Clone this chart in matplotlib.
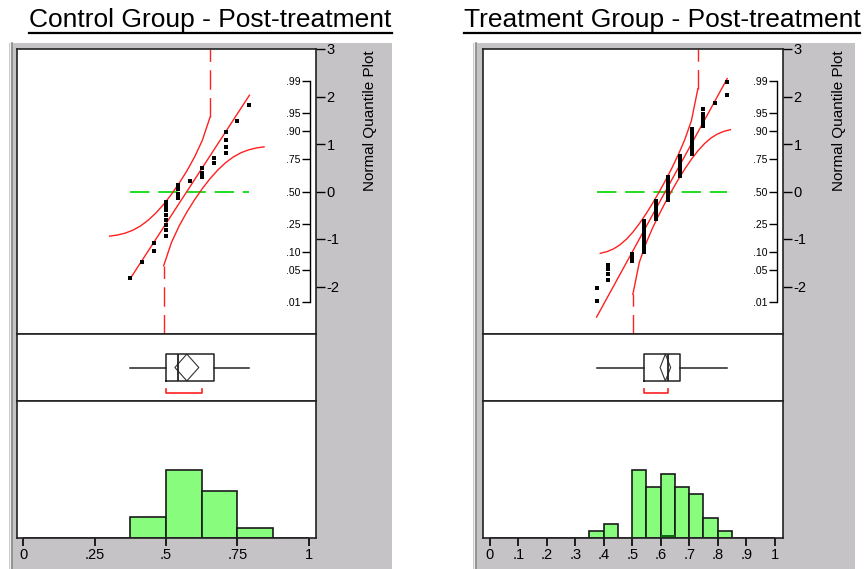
import numpy as np
import matplotlib.pyplot as plt
from matplotlib.patches import Rectangle, Polygon
from matplotlib.lines import Line2D
from statistics import NormalDist

plt.rcParams['font.family'] = ['Liberation Sans', 'DejaVu Sans']

nd = NormalDist()

# control group, post-treatment: distinct values and how often each occurs
control_values = [0.375, 0.4167, 0.4583, 0.5, 0.5417, 0.5833, 0.625, 0.6667, 0.7083, 0.75, 0.7917]
control_counts = [1, 1, 2, 8, 4, 1, 3, 2, 4, 1, 1]

# treatment group, post-treatment
treatment_values = [0.375, 0.4167, 0.5, 0.5417, 0.5833, 0.625, 0.6667, 0.7083, 0.75, 0.7917, 0.8333]
treatment_counts = [2, 4, 3, 17, 15, 19, 15, 13, 5, 1, 2]
treatment_selected = [0.625]  # one highlighted row in the histogram

control_xticks = [0, 0.25, 0.5, 0.75, 1]
control_xlabels = ['0', '.25', '.5', '.75', '1']
treatment_xticks = [0, 0.1, 0.2, 0.3, 0.4, 0.5, 0.6, 0.7, 0.8, 0.9, 1]
treatment_xlabels = ['0', '.1', '.2', '.3', '.4', '.5', '.6', '.7', '.8', '.9', '1']

pct_ticks = [0.01, 0.05, 0.10, 0.25, 0.50, 0.75, 0.90, 0.95, 0.99]
pct_labels = ['.01', '.05', '.10', '.25', '.50', '.75', '.90', '.95', '.99']
nq_ticks = [-2, -1, 0, 1, 2, 3]
nq_labels = ['-2', '-1', '0', '1', '2', '3']

RED = '#ff2020'
GREEN = '#22dd22'
BAR = '#88fc7c'
GRAY = '#c6c3c7'

W, H = 866, 569
fig = plt.figure(figsize=(W / 100, H / 100), dpi=100)
fig.patch.set_facecolor('white')


def frac_rect(x0, y0, x1, y1):
    # pixel box (top-left origin) -> figure fraction rect
    return [x0 / W, 1 - y1 / H, (x1 - x0) / W, (y1 - y0) / H]


def t975(df):
    z = 1.959964
    return z + (z**3 + z) / (4 * df) + (5 * z**5 + 16 * z**3 + 3 * z) / (96 * df**2)


def shortest_half(x):
    x = np.sort(x)
    n = len(x)
    h = n // 2 + 1
    widths = x[h - 1:] - x[:n - h + 1]
    cands = np.where(widths <= widths.min() + 1e-3)[0]
    i = max(cands, key=lambda k: np.sum((x >= x[k]) & (x <= x[k + h - 1])))
    return x[i], x[i + h - 1]


def panel(values, counts, title, title_x, gx0, gx1, fx0, fx1, xlim, xticks, xlabels,
          bin_edges, label_x, selected=None):
    data = np.repeat(values, counts)
    n = len(data)
    mu = data.mean()
    sd = data.std(ddof=1)

    # gray backdrop and its 3d edge
    fig.add_artist(Rectangle((gx0 / W, 0), (gx1 - gx0) / W, 1 - 43 / H,
                             transform=fig.transFigure, facecolor=GRAY,
                             edgecolor='none', zorder=0))
    fig.add_artist(Line2D([(gx0 + 0.5) / W] * 2, [0, 1 - 43 / H], transform=fig.transFigure,
                          color='#eeeeee', lw=1, zorder=1))
    fig.add_artist(Line2D([(gx0 + 3) / W] * 2, [0, 1 - 43 / H], transform=fig.transFigure,
                          color='#8c8a8e', lw=1.2, zorder=1))

    # title with underline
    t = fig.text(title_x / W, 1 - 27 / H, title, ha='center', va='baseline', fontsize=19)
    bb = t.get_window_extent(renderer=fig.canvas.get_renderer())
    fig.add_artist(Line2D([bb.x0 / W, bb.x1 / W], [1 - 33 / H] * 2,
                          transform=fig.transFigure, color='black', lw=1.6))

    axq = fig.add_axes(frac_rect(fx0, 49, fx1, 334))
    axb = fig.add_axes(frac_rect(fx0, 334, fx1, 401))
    axh = fig.add_axes(frac_rect(fx0, 401, fx1, 538))
    for ax in (axq, axb, axh):
        ax.set_xlim(xlim)
        ax.set_facecolor('white')
        for s in ax.spines.values():
            s.set_linewidth(1.2)
            s.set_color('#222222')

    # normal quantile plot
    z = np.array([nd.inv_cdf(r / (n + 1)) for r in range(1, n + 1)])
    xs = np.sort(data)
    lo_x, hi_x = xs[0], xs[-1]
    axq.plot([lo_x, hi_x], [0, 0], color=GREEN, lw=1.4, dashes=(10, 4.5))
    axq.plot([lo_x, hi_x], [(lo_x - mu) / sd, (hi_x - mu) / sd], color=RED, lw=1)

    d = 0.886 / np.sqrt(n)  # Lilliefors 5% bound
    tt = np.linspace(-2.5, 2.5, 21)
    p = np.array([nd.cdf(v) for v in tt])
    bx = mu + sd * tt
    up = p + d
    ok = up < 1
    zu = [nd.inv_cdf(v) for v in up[ok]]
    axq.plot(bx[ok], zu, color=RED, lw=1)
    axq.plot([bx[ok][-1]] * 2, [zu[-1], 3], color=RED, lw=1, dashes=(14, 6))
    dn = p - d
    ok = dn > 0
    zl = [nd.inv_cdf(v) for v in dn[ok]]
    axq.plot(bx[ok], zl, color=RED, lw=1)
    axq.plot([bx[ok][0]] * 2, [-3, zl[0]], color=RED, lw=1, dashes=(14, 6))

    axq.plot(xs, z, 's', color='black', ms=2.2, mew=0)
    axq.set_ylim(-3, 3)
    axq.set_xticks([])
    axq.yaxis.tick_right()
    axq.set_yticks(nq_ticks)
    axq.set_yticklabels(nq_labels)
    axq.tick_params(axis='y', direction='out', length=6.5, width=1, labelsize=10.5, pad=1)

    sec = axq.secondary_yaxis(0.98, functions=(lambda v: v, lambda v: v))
    sec.set_alignment('left')
    sec.set_yticks([nd.inv_cdf(q) for q in pct_ticks])
    sec.set_yticklabels(pct_labels)
    sec.tick_params(axis='y', direction='out', length=6, width=1, labelsize=7.5, pad=1)
    sec.spines['left'].set_bounds(nd.inv_cdf(0.01), nd.inv_cdf(0.99))
    sec.spines['left'].set_linewidth(1)

    fig.text(label_x / W, 1 - 50 / H, 'Normal Quantile Plot', rotation=90,
             ha='center', va='top', fontsize=11)

    # outlier box plot with mean diamond and shortest half
    q1, med, q3 = np.quantile(data, [0.25, 0.5, 0.75], method='weibull')
    iqr = q3 - q1
    wlo = data[data >= q1 - 1.5 * iqr].min()
    whi = data[data <= q3 + 1.5 * iqr].max()
    axb.bxp([dict(med=med, q1=q1, q3=q3, whislo=wlo, whishi=whi, fliers=[])],
            positions=[0.5], widths=0.4, orientation='horizontal', showcaps=False,
            boxprops=dict(color='#222222', lw=1.1),
            whiskerprops=dict(color='#222222', lw=1.1),
            medianprops=dict(color='#222222', lw=1.3))
    ci = t975(n - 1) * sd / np.sqrt(n)
    axb.add_patch(Polygon([(mu - ci, 0.5), (mu, 0.7), (mu + ci, 0.5), (mu, 0.3)],
                          closed=True, fill=False, edgecolor='#333333', lw=0.8))
    a, b = shortest_half(data)
    axb.plot([a, a, b, b], [0.175, 0.115, 0.115, 0.175], color=RED, lw=1.2)
    axb.set_ylim(0, 1)
    axb.set_xlim(xlim)
    axb.set_xticks([])
    axb.set_yticks([])

    # histogram
    cnt, _, _ = axh.hist(data, bins=bin_edges, color=BAR, edgecolor='#1a1a1a', lw=1.2)
    if selected is not None:
        axh.hist(selected, bins=bin_edges, color='#0b6b12', edgecolor='none')
    axh.set_ylim(0, 2.02 * cnt.max())
    axh.set_yticks([])
    axh.set_xticks(xticks)
    axh.set_xticklabels(xlabels)
    axh.tick_params(axis='x', direction='out', length=6, width=1.2, labelsize=10.5, pad=1.5)


panel(control_values, control_counts, 'Control Group - Post-treatment', 210.5,
      9, 392, 17, 316, (-0.021, 1.0245), control_xticks, control_xlabels,
      np.arange(9) / 8, 370)
panel(treatment_values, treatment_counts, 'Treatment Group - Post-treatment', 662,
      473, 855, 483, 783, (-0.0235, 1.029), treatment_xticks, treatment_xlabels,
      np.arange(21) / 20, 839, selected=treatment_selected)

fig.savefig('out.png', dpi=100)
